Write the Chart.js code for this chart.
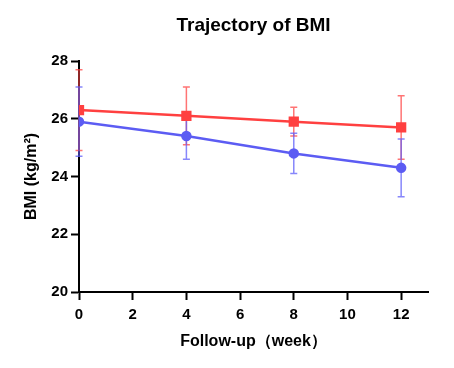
<!DOCTYPE html>
<html>
<head>
<meta charset="utf-8">
<script src="https://cdn.jsdelivr.net/npm/chart.js@4"></script>
<style>
  html, body { margin: 0; padding: 0; background: #fff; }
  #wrap { width: 454px; height: 368px; }
</style>
</head>
<body>
<div id="wrap"><canvas id="bmiChart" width="454" height="368"></canvas></div>
<script>
// data
const weeks = [0, 4, 8, 12];
const redMean = [26.3, 26.1, 25.9, 25.7];
const redErr = [1.4, 1.0, 0.5, 1.1];
const blueMean = [25.9, 25.4, 24.8, 24.3];
const blueErr = [1.2, 0.8, 0.7, 1.0];
const xTicks = [0, 2, 4, 6, 8, 10, 12];
const yTicks = [20, 22, 24, 26, 28];
const chartTitle = 'Trajectory of BMI';

const fontFamily = 'Arial, "Liberation Sans", sans-serif';

// draws the error bars with the chart's own scales
const errorBars = {
    id: 'errorBars',
    beforeDatasetsDraw(chart) {
        const ctx = chart.ctx;
        const xs = chart.scales.x;
        const ys = chart.scales.y;
        chart.data.datasets.forEach(ds => {
            ctx.save();
            ctx.strokeStyle = ds.errColor;
            ctx.lineWidth = 1.5;
            ds.data.forEach((pt, i) => {
                const x = xs.getPixelForValue(pt.x);
                const yTop = ys.getPixelForValue(pt.y + ds.err[i]);
                const yBot = ys.getPixelForValue(pt.y - ds.err[i]);
                ctx.beginPath();
                ctx.moveTo(x, yTop);
                ctx.lineTo(x, yBot);
                ctx.moveTo(x - 3.5, yTop);
                ctx.lineTo(x + 3.5, yTop);
                ctx.moveTo(x - 3.5, yBot);
                ctx.lineTo(x + 3.5, yBot);
                ctx.stroke();
            });
            ctx.restore();
        });
    }
};

// title centred over the plot area rather than the whole canvas
const plotTitle = {
    id: 'plotTitle',
    afterDraw(chart) {
        const ctx = chart.ctx;
        const area = chart.chartArea;
        ctx.save();
        ctx.font = 'bold 19px ' + fontFamily;
        ctx.fillStyle = '#000';
        ctx.textAlign = 'center';
        ctx.textBaseline = 'middle';
        ctx.fillText(chartTitle, (area.left + area.right) / 2, 26);
        ctx.restore();
    }
};

const toPoints = vals => weeks.map((w, i) => ({ x: w, y: vals[i] }));

new Chart(document.getElementById('bmiChart').getContext('2d'), {
    type: 'line',
    data: {
        datasets: [{
            label: 'Group 1',
            data: toPoints(redMean),
            err: redErr,
            errColor: 'rgba(255, 70, 70, 0.75)',
            borderColor: '#ff4040',
            backgroundColor: '#ff4040',
            borderWidth: 2.5,
            pointStyle: 'rect',
            pointRadius: 5.5,
            pointHoverRadius: 5.5
        }, {
            label: 'Group 2',
            data: toPoints(blueMean),
            err: blueErr,
            errColor: 'rgba(95, 95, 250, 0.75)',
            borderColor: '#5c5cf3',
            backgroundColor: '#5c5cf3',
            borderWidth: 2.5,
            pointStyle: 'circle',
            pointRadius: 4,
            pointHoverRadius: 4
        }]
    },
    options: {
        responsive: false,
        animation: false,
        layout: { padding: { left: 0, right: 26, top: 61, bottom: 0 } },
        plugins: {
            legend: { display: false },
            tooltip: { enabled: false },
            title: { display: false }
        },
        scales: {
            x: {
                type: 'linear',
                min: 0,
                max: 13,
                afterFit: scale => { scale.height = 76; },
                afterBuildTicks: scale => { scale.ticks = xTicks.map(v => ({ value: v })); },
                border: { display: true, color: '#000', width: 2 },
                grid: { drawOnChartArea: false, tickLength: 8, tickColor: '#000', tickWidth: 2 },
                ticks: { color: '#000', padding: 6, font: { family: fontFamily, size: 15, weight: 'bold' } },
                title: {
                    display: true,
                    text: 'Follow-up（week）',
                    color: '#000',
                    padding: { top: 4, bottom: 17 },
                    font: { family: fontFamily, size: 16, weight: 'bold' }
                }
            },
            y: {
                min: 20,
                max: 28,
                afterFit: scale => { scale.width = 79; },
                afterBuildTicks: scale => { scale.ticks = yTicks.map(v => ({ value: v })); },
                border: { display: true, color: '#000', width: 2 },
                grid: { drawOnChartArea: false, tickLength: 8, tickColor: '#000', tickWidth: 2 },
                ticks: { color: '#000', padding: 3, font: { family: fontFamily, size: 15, weight: 'bold' } },
                title: {
                    display: true,
                    text: 'BMI (kg/m²)',
                    color: '#000',
                    padding: { top: 22, bottom: 4 },
                    font: { family: fontFamily, size: 16, weight: 'bold' }
                }
            }
        }
    },
    plugins: [errorBars, plotTitle]
});
</script>
</body>
</html>
